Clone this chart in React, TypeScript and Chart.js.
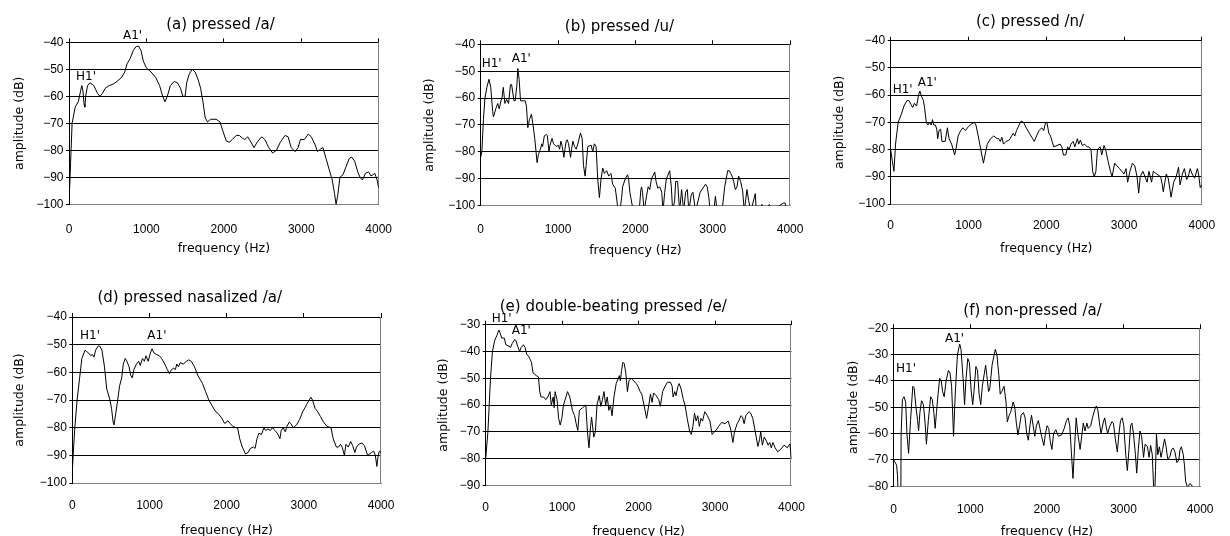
import React, { useEffect, useRef } from "react";
import { Chart, registerables } from "chart.js";
Chart.register(...registerables);

// ---------- data (frequency in Hz, amplitude in dB) ----------
const aHz = [0, 20, 40, 80, 120, 150, 165, 180, 195, 205, 215, 240, 270, 320, 370, 400, 430, 470, 520, 570, 620, 680, 720, 750, 790, 830, 870, 900, 930, 960, 1000, 1060, 1120, 1170, 1210, 1240, 1270, 1310, 1360, 1400, 1440, 1470, 1500, 1520, 1550, 1590, 1630, 1670, 1700, 1730, 1760, 1790, 1830, 1900, 1950, 1990, 2030, 2070, 2110, 2160, 2200, 2240, 2270, 2310, 2340, 2390, 2430, 2490, 2530, 2580, 2630, 2680, 2730, 2790, 2830, 2870, 2920, 2960, 2990, 3040, 3090, 3130, 3180, 3210, 3250, 3280, 3320, 3360, 3400, 3430, 3450, 3470, 3500, 3540, 3580, 3620, 3650, 3690, 3730, 3760, 3790, 3830, 3870, 3900, 3930, 3950, 3980, 4000];
const aDb = [-100, -85, -70, -64, -62, -58, -56, -58, -63, -64, -60, -56, -55, -56, -59, -60, -59, -57, -56, -55.5, -54.5, -53, -51, -48, -46, -43, -41.5, -41.5, -43, -47, -49.5, -51, -53, -56, -60, -62, -60, -56, -54.5, -55, -57, -60, -60, -55, -52, -50, -51, -54, -57, -62, -68, -69.5, -68.5, -68.5, -69.5, -73, -76.5, -77, -76, -74.5, -74.5, -75.5, -76, -75, -76.5, -79, -77, -75, -76, -79, -81, -80, -77, -74.5, -75, -79, -80.5, -79, -76, -76, -74, -75, -78, -80.5, -79.5, -79, -83, -87, -91, -96, -100, -97, -90, -89, -86, -83, -82.5, -84, -88, -90, -91, -88.5, -88, -89.5, -89, -88.5, -91, -94];

const bHz = [0, 15, 35, 55, 80, 107, 130, 155, 165, 195, 220, 240, 262, 275, 292, 313, 335, 360, 385, 400, 430, 446, 468, 480, 497, 515, 549, 575, 592, 609, 630, 656, 677, 699, 716, 729, 746, 772, 790, 800, 823, 849, 862, 883, 892, 922, 943, 977, 1003, 1020, 1037, 1054, 1076, 1089, 1106, 1119, 1136, 1162, 1175, 1192, 1213, 1235, 1256, 1290, 1312, 1329, 1350, 1363, 1385, 1428, 1449, 1470, 1492, 1513, 1535, 1556, 1578, 1599, 1629, 1655, 1685, 1706, 1740, 1779, 1800, 1822, 1835, 1869, 1899, 1912, 1929, 1972, 2049, 2071, 2080, 2092, 2114, 2135, 2165, 2186, 2208, 2251, 2268, 2289, 2315, 2341, 2358, 2379, 2401, 2444, 2465, 2482, 2508, 2521, 2546, 2572, 2598, 2624, 2650, 2671, 2692, 2722, 2744, 2778, 2838, 2907, 2929, 2950, 2967, 3014, 3035, 3057, 3121, 3155, 3194, 3215, 3232, 3250, 3271, 3293, 3314, 3335, 3361, 3387, 3408, 3443, 3464, 3494, 3550, 3563, 3623, 3636, 3657, 3734, 3755, 3914, 3936, 3957, 4000];
const bDb = [-82, -80, -68, -60, -56, -53, -56, -65, -67, -64, -62, -64, -61, -60, -56, -62, -60.5, -62, -55, -55, -61, -61, -55, -49, -53, -61, -61, -61, -63, -71, -68, -66, -70, -75, -80, -84, -81, -79, -77, -78, -74, -73.5, -74, -80, -78, -75, -77, -78, -77.5, -79, -76, -78, -82, -79, -76, -75.5, -77, -82, -79, -76, -78, -79, -77, -73, -75, -85, -89, -85, -78, -77.5, -80, -77, -78, -90, -97, -90, -86, -88, -87, -89, -88, -92, -93.5, -102, -102, -97, -93, -90, -88.5, -90, -95, -102, -102, -94, -93, -95, -102, -98, -93, -94, -90, -87.5, -91, -93.5, -93, -95, -102, -95, -90, -87, -93, -102, -98, -91, -91, -102, -94, -102, -95, -94, -102, -96, -95, -102, -95, -92, -93, -97, -102, -102, -96.5, -102, -102, -93, -87, -87, -88, -89, -91, -94, -93, -89, -91, -94.5, -102, -94, -98, -102, -95.5, -102, -102, -99.5, -102, -99.5, -102, -99, -99, -102, -104];

const cHz = [0, 20, 42, 62, 96, 137, 171, 208, 233, 262, 283, 304, 333, 358, 375, 396, 421, 437, 458, 479, 500, 521, 537, 554, 575, 592, 604, 621, 642, 658, 700, 729, 750, 783, 804, 821, 838, 867, 900, 929, 962, 1000, 1042, 1075, 1096, 1125, 1158, 1192, 1213, 1242, 1283, 1325, 1367, 1388, 1408, 1429, 1450, 1483, 1525, 1554, 1575, 1596, 1617, 1650, 1679, 1708, 1742, 1783, 1825, 1846, 1875, 1908, 1942, 1967, 1992, 2008, 2033, 2054, 2075, 2096, 2138, 2179, 2200, 2221, 2250, 2275, 2292, 2317, 2346, 2367, 2400, 2417, 2438, 2463, 2492, 2525, 2546, 2575, 2596, 2617, 2638, 2658, 2692, 2713, 2742, 2763, 2792, 2825, 2846, 2879, 2908, 2942, 2971, 3000, 3025, 3046, 3075, 3108, 3138, 3167, 3188, 3208, 3242, 3270, 3296, 3320, 3354, 3375, 3420, 3470, 3492, 3504, 3542, 3567, 3592, 3604, 3638, 3670, 3700, 3720, 3750, 3775, 3804, 3825, 3850, 3875, 3908, 3942, 3958, 3979, 4000];
const cDb = [-80, -84, -88, -78, -70, -67, -64, -62, -62, -63.5, -64.5, -63, -64, -60, -58.5, -60.5, -62, -65, -70, -71, -70, -71, -69, -71, -71, -72.5, -76, -73, -72.5, -77, -77, -72, -76, -78, -80, -82, -80, -75, -73, -72, -73, -71.5, -70.5, -70, -71, -75, -80, -85, -82, -78, -76, -75, -76, -76, -77, -75.5, -78, -77, -76.5, -75, -74, -75, -73, -71, -69.5, -70, -72, -74, -76, -77, -75, -73, -72, -73, -70, -70, -74, -75, -77, -79, -78.5, -78, -79, -82, -82, -79, -80, -78, -77, -79, -76, -78, -76.5, -78.5, -78, -79, -79, -80, -88, -90, -88, -80, -79, -82, -78.5, -80, -84, -88, -90, -85, -86, -87, -88, -89, -87, -92, -88, -85, -86, -90, -96, -90, -88, -90, -92, -88, -92, -88, -89, -90, -93, -95.5, -89, -90.5, -95, -97.5, -92, -90, -86.5, -93, -89, -87, -91, -90, -87, -89, -90.5, -87, -89, -94, -93];

const dHz = [0, 15, 33, 62, 95, 124, 165, 186, 211, 240, 260, 281, 302, 335, 355, 384, 417, 446, 488, 508, 529, 541, 562, 583, 612, 640, 661, 686, 707, 736, 756, 777, 798, 831, 860, 880, 909, 934, 955, 983, 1012, 1033, 1058, 1087, 1128, 1157, 1198, 1231, 1260, 1285, 1314, 1335, 1355, 1376, 1397, 1438, 1479, 1508, 1541, 1583, 1624, 1665, 1686, 1727, 1769, 1810, 1851, 1893, 1934, 1975, 2017, 2045, 2079, 2120, 2141, 2169, 2202, 2244, 2277, 2306, 2347, 2368, 2393, 2417, 2450, 2483, 2504, 2533, 2566, 2595, 2624, 2657, 2690, 2707, 2731, 2760, 2781, 2810, 2831, 2864, 2905, 2946, 2988, 3021, 3037, 3070, 3091, 3112, 3145, 3174, 3215, 3256, 3298, 3351, 3380, 3421, 3450, 3475, 3496, 3525, 3545, 3574, 3607, 3632, 3661, 3682, 3711, 3752, 3785, 3826, 3876, 3905, 3926, 3946, 3963, 3979, 4000];
const dDb = [-96, -88, -80, -70, -62, -55, -52, -52.5, -53, -54, -53.5, -54.5, -52, -50.5, -50.5, -52, -58, -66, -70, -73, -78, -79, -75, -71, -65, -62, -57, -55, -56, -58, -61, -62, -59, -57, -56, -57.5, -55, -56, -54, -56, -53, -51.5, -53, -53.5, -54, -55, -57, -59, -60.5, -59, -58.5, -59, -57, -58, -56.5, -57, -56, -55.5, -56, -58, -61, -63, -64, -67, -70, -72, -74, -75, -76.5, -78.5, -77.5, -78.5, -79.5, -80, -80, -84, -87, -89.5, -89, -87.5, -87, -87.5, -84, -82, -82.5, -80, -81, -80.5, -81, -80, -81, -82, -84, -81, -80, -81.5, -79.5, -78, -78.5, -80, -79, -77, -74, -72.5, -71.5, -70, -69, -70, -73, -74, -76, -78, -79.5, -80, -84, -87, -87, -86, -87, -90, -86, -87, -85, -86.5, -89, -87, -86, -85.5, -86.5, -90, -89, -88.5, -90, -94, -90, -88.5, -89];

const eHz = [0, 29, 63, 88, 117, 146, 172, 188, 209, 243, 264, 305, 326, 347, 381, 397, 418, 444, 464, 494, 515, 536, 565, 598, 619, 661, 690, 707, 724, 757, 787, 812, 841, 858, 883, 895, 908, 933, 954, 975, 996, 1017, 1050, 1071, 1100, 1134, 1163, 1184, 1205, 1226, 1268, 1310, 1331, 1351, 1372, 1385, 1414, 1435, 1456, 1485, 1506, 1527, 1548, 1569, 1590, 1611, 1632, 1653, 1678, 1707, 1736, 1749, 1762, 1778, 1795, 1812, 1833, 1854, 1874, 1904, 1937, 1971, 1992, 2021, 2042, 2071, 2105, 2134, 2155, 2176, 2197, 2230, 2264, 2285, 2314, 2347, 2377, 2418, 2439, 2452, 2473, 2490, 2515, 2531, 2556, 2586, 2607, 2636, 2669, 2690, 2711, 2732, 2753, 2774, 2795, 2816, 2837, 2866, 2900, 2933, 2962, 2992, 3025, 3046, 3088, 3130, 3172, 3205, 3234, 3255, 3289, 3310, 3339, 3360, 3381, 3402, 3444, 3465, 3494, 3527, 3561, 3582, 3598, 3619, 3644, 3674, 3695, 3716, 3736, 3757, 3787, 3820, 3862, 3904, 3946, 3979, 4000];
const eDb = [-80, -70, -50, -40, -36, -34, -32, -33, -35, -35, -37.5, -38, -38.5, -37, -35.5, -36, -38, -40, -38.5, -37.5, -38.5, -41, -42, -44, -48, -49, -49.5, -55, -57, -57, -58, -57, -55, -60, -57, -61, -55, -58, -65, -67.5, -65, -60, -57, -55, -57, -62, -64, -67, -69.5, -62, -61, -60, -70, -76, -68, -64.5, -72, -70, -60, -56.5, -60.5, -58, -55, -60, -57, -62, -60, -64, -57, -52, -50, -49, -51, -47, -44, -44.5, -48, -55, -51, -50, -51, -52, -53, -55, -56, -60, -65, -60, -56, -59, -55.5, -56.5, -58, -60.5, -55, -53, -51.5, -51.5, -53, -57, -55, -56.5, -53, -52, -54, -58, -60, -65, -70, -71, -68, -63, -66, -64, -68, -65, -66, -62.5, -64, -66, -71, -70, -69, -68, -66.5, -67, -66, -69, -74, -70, -67, -66, -64, -64.5, -67, -64, -62.5, -63, -65, -70, -75.5, -73, -70, -75, -72, -73.5, -75, -74, -76, -74, -76, -77.5, -76.5, -75, -76, -74.5, -80];

const fHz = [0, 21, 38, 50, 59, 80, 93, 97, 114, 135, 156, 173, 194, 220, 249, 266, 291, 312, 325, 342, 363, 388, 410, 427, 452, 482, 503, 524, 541, 558, 579, 600, 621, 638, 659, 684, 714, 735, 756, 781, 803, 832, 862, 879, 908, 925, 942, 967, 988, 1009, 1031, 1048, 1073, 1094, 1115, 1136, 1157, 1200, 1216, 1238, 1254, 1284, 1326, 1347, 1373, 1390, 1411, 1440, 1466, 1483, 1508, 1525, 1542, 1559, 1580, 1601, 1622, 1643, 1664, 1694, 1715, 1736, 1757, 1778, 1799, 1820, 1842, 1863, 1888, 1909, 1930, 1960, 1981, 2002, 2023, 2044, 2065, 2087, 2116, 2150, 2192, 2226, 2256, 2277, 2298, 2319, 2340, 2361, 2382, 2403, 2433, 2458, 2475, 2496, 2522, 2539, 2572, 2594, 2623, 2644, 2665, 2686, 2707, 2733, 2754, 2771, 2792, 2817, 2847, 2868, 2893, 2919, 2940, 2961, 2982, 3003, 3029, 3050, 3071, 3092, 3109, 3130, 3155, 3172, 3193, 3214, 3236, 3261, 3282, 3312, 3333, 3354, 3375, 3392, 3405, 3417, 3430, 3447, 3468, 3489, 3510, 3535, 3556, 3578, 3607, 3628, 3650, 3671, 3696, 3721, 3738, 3755, 3780, 3795, 3810, 3835, 3865, 3890, 3905, 4000];
const fDb = [-70, -71, -72, -76, -84, -84, -84, -60, -47, -46, -48, -60, -67.5, -55, -42, -42.5, -50, -55, -59, -52, -47.5, -49, -56, -64, -55, -46, -47, -52, -58, -52, -45, -39, -40, -44, -46, -40, -36, -37, -42, -61, -45, -30, -26, -28, -40, -49, -40, -31.5, -33, -43, -49, -44, -34.5, -36, -45, -49, -42, -34, -38, -44, -43, -34, -28, -30, -38, -45, -44, -42, -48, -55.5, -53, -52, -50, -48, -50, -56, -60.5, -57, -53, -52, -54, -60, -62.5, -57, -53, -57, -61, -57, -55, -58, -61, -64.5, -60, -57, -58, -63, -66, -60, -58.5, -61, -60.5, -58, -55, -54, -57, -67, -77, -65, -54, -60, -66, -60, -56, -59, -56, -58, -57, -54, -51, -49.5, -51, -56, -60, -56, -54, -57, -60, -57.5, -55.5, -56, -62, -67, -60, -55, -54, -57, -68, -74, -66, -57, -56, -60, -68, -75, -66, -59, -61, -69, -64, -65, -69, -64.5, -68, -80, -85, -74, -60, -68, -65, -69, -66, -62, -65, -70, -68.5, -66, -65.5, -67, -71, -70, -66, -65, -68, -72, -78, -80.5, -79, -79.5, -81, -85];

const xTicksHz = [0, 1000, 2000, 3000, 4000];
const xTitle = "frequency (Hz)";
const yTitle = "amplitude (dB)";

// ---------- layout ----------
const SANS = '"DejaVu Sans", sans-serif';
const TICK = '"Liberation Sans", Arial, sans-serif';

type Mark = { text: string; x: number; y: number };
type P = {
  title: string; hz: number[]; db: number[]; yMin: number; yMax: number;
  box: { x: number; y: number; w: number; h: number };
  plot: { l: number; t: number; r: number; b: number };
  tc: { x: number; y: number }; tickCy: number; xTitleCy: number; yTitleCx: number;
  marks: Mark[];
};

const PANELS: P[] = [
  { title: "(a) pressed /a/", hz: aHz, db: aDb, yMin: -100, yMax: -40,
    box: { x: 0, y: 0, w: 410, h: 266 }, plot: { l: 69, t: 42.3, r: 382.7, b: 204.3 },
    tc: { x: 220.5, y: 25.5 }, tickCy: 229.5, xTitleCy: 249, yTitleCx: 20,
    marks: [{ text: "H1'", x: 76, y: 77 }, { text: "A1'", x: 123, y: 35.5 }] },
  { title: "(b) pressed /u/", hz: bHz, db: bDb, yMin: -100, yMax: -40,
    box: { x: 410, y: 0, w: 410, h: 266 }, plot: { l: 480.7, t: 44.3, r: 791.7, b: 205.7 },
    tc: { x: 619.5, y: 27 }, tickCy: 229.5, xTitleCy: 250.5, yTitleCx: 430,
    marks: [{ text: "H1'", x: 481.7, y: 64 }, { text: "A1'", x: 511.7, y: 58.8 }] },
  { title: "(c) pressed /n/", hz: cHz, db: cDb, yMin: -100, yMax: -40,
    box: { x: 820, y: 0, w: 410, h: 266 }, plot: { l: 890.7, t: 40.7, r: 1210.7, b: 204 },
    tc: { x: 1030, y: 21.7 }, tickCy: 226, xTitleCy: 249, yTitleCx: 840,
    marks: [{ text: "H1'", x: 892.7, y: 90 }, { text: "A1'", x: 917.7, y: 82.8 }] },
  { title: "(d) pressed nasalized /a/", hz: dHz, db: dDb, yMin: -100, yMax: -40,
    box: { x: 0, y: 266, w: 410, h: 270 }, plot: { l: 72.3, t: 317, r: 395, b: 483 },
    tc: { x: 189.7, y: 298.3 }, tickCy: 505.8, xTitleCy: 531, yTitleCx: 20,
    marks: [{ text: "H1'", x: 80, y: 336 }, { text: "A1'", x: 147.3, y: 336 }] },
  { title: "(e) double-beating pressed /e/", hz: eHz, db: eDb, yMin: -90, yMax: -30,
    box: { x: 410, y: 266, w: 410, h: 270 }, plot: { l: 485.7, t: 324.7, r: 804.3, b: 485.3 },
    tc: { x: 613.3, y: 307.3 }, tickCy: 507.7, xTitleCy: 532, yTitleCx: 443.8,
    marks: [{ text: "H1'", x: 491.7, y: 318.8 }, { text: "A1'", x: 511.7, y: 331.3 }] },
  { title: "(f) non-pressed /a/", hz: fHz, db: fDb, yMin: -80, yMax: -20,
    box: { x: 820, y: 266, w: 410, h: 270 }, plot: { l: 893.7, t: 328.3, r: 1209.3, b: 486.3 },
    tc: { x: 1032.5, y: 311 }, tickCy: 510, xTitleCy: 532, yTitleCx: 853.8,
    marks: [{ text: "H1'", x: 896, y: 369.3 }, { text: "A1'", x: 945, y: 338.5 }] },
];

const TICK_SIZE = 12;
const AXT_SIZE = 12.5;
const TITLE_SIZE = 15;

function decor(p: P) {
  return {
    id: "panelDecor",
    beforeDatasetsDraw(chart: any) {
      const { ctx, chartArea: a } = chart;
      ctx.save();
      ctx.strokeStyle = "#808080";
      ctx.lineWidth = 1;
      const x = Math.round(a.right) - 0.5;
      ctx.beginPath();
      ctx.moveTo(x, a.top);
      ctx.lineTo(x, a.bottom);
      ctx.stroke();
      ctx.restore();
    },
    afterDraw(chart: any) {
      const ctx = chart.ctx;
      ctx.save();
      ctx.fillStyle = "#000";
      ctx.font = `${TITLE_SIZE}px ${SANS}`;
      ctx.textAlign = "center";
      ctx.textBaseline = "middle";
      ctx.fillText(p.title, p.tc.x - p.box.x, p.tc.y - p.box.y);
      ctx.font = `12px ${SANS}`;
      ctx.textAlign = "left";
      for (const m of p.marks) ctx.fillText(m.text, m.x - p.box.x, m.y - p.box.y);
      ctx.restore();
    },
  };
}

function Panel({ p }: { p: P }) {
  const ref = useRef<HTMLCanvasElement>(null);
  useEffect(() => {
    const canvas = ref.current;
    if (!canvas) return;
    const { box, plot } = p;
    const leftW = plot.l - box.x;
    const topH = plot.t - box.y;
    const rightPad = box.x + box.w - plot.r;
    const bottomH = box.y + box.h - plot.b;
    const axLH = AXT_SIZE * 1.2;
    const tickPad = p.tickCy - plot.b - (TICK_SIZE * 1.2) / 2;
    const xTitlePad = box.y + box.h - p.xTitleCy - axLH / 2;
    const yTitlePad = p.yTitleCx - box.x - axLH / 2;

    const chart = new Chart(canvas, {
      type: "line",
      data: {
        datasets: [
          {
            data: p.hz.map((x, i) => ({ x, y: p.db[i] })),
            borderColor: "#000",
            borderWidth: 1,
            pointRadius: 0,
            tension: 0,
            fill: false,
            xAxisID: "x",
            yAxisID: "y",
          },
        ],
      },
      options: {
        animation: false,
        responsive: false,
        devicePixelRatio: 1,
        layout: { padding: { left: 0, top: 0, right: rightPad, bottom: 0 } },
        plugins: { legend: { display: false }, tooltip: { enabled: false }, title: { display: false } },
        scales: {
          x: {
            type: "linear",
            position: "bottom",
            min: 0,
            max: 4000,
            afterBuildTicks: (s: any) => { s.ticks = xTicksHz.map((v) => ({ value: v })); },
            ticks: {
              padding: tickPad,
              color: "#000",
              font: { family: TICK, size: TICK_SIZE },
              maxRotation: 0,
              autoSkip: false,
              callback: (v: any) => String(v),
            },
            grid: { display: false, drawTicks: false },
            border: { display: true, color: "#808080", width: 1 },
            title: {
              display: true,
              text: xTitle,
              color: "#000",
              font: { family: SANS, size: AXT_SIZE },
              padding: { top: 0, bottom: xTitlePad },
            },
            afterFit: (s: any) => { s.height = bottomH; },
          },
          x2: {
            type: "linear",
            position: "top",
            min: 0,
            max: 4000,
            afterBuildTicks: (s: any) => { s.ticks = xTicksHz.map((v) => ({ value: v })); },
            ticks: { display: false },
            grid: { drawOnChartArea: false, drawTicks: true, tickLength: 4, color: "#000", lineWidth: 1 },
            border: { display: true, color: "#000", width: 1 },
            afterFit: (s: any) => { s.height = topH; },
          },
          y: {
            type: "linear",
            position: "left",
            min: p.yMin,
            max: p.yMax,
            ticks: {
              stepSize: 10,
              padding: 2.5,
              color: "#000",
              font: { family: TICK, size: TICK_SIZE },
              callback: (v: any) => (v < 0 ? "\u2212" + Math.abs(v) : String(v)),
            },
            grid: {
              color: (c: any) => (c.tick && c.tick.value === p.yMin ? "rgba(0,0,0,0)" : "#000"),
              tickColor: "#000",
              tickLength: 3,
              lineWidth: 1,
            },
            border: { display: true, color: "#000", width: 1 },
            title: {
              display: true,
              text: yTitle,
              color: "#000",
              font: { family: SANS, size: AXT_SIZE },
              padding: { top: yTitlePad, bottom: 0 },
            },
            afterFit: (s: any) => { s.width = leftW; },
          },
        },
      },
      plugins: [decor(p)],
    } as any);
    return () => chart.destroy();
  }, [p]);
  return (
    <canvas
      ref={ref}
      width={p.box.w}
      height={p.box.h}
      style={{ position: "absolute", left: p.box.x, top: p.box.y, width: p.box.w, height: p.box.h }}
    />
  );
}

export default function App() {
  return (
    <div style={{ position: "absolute", left: 0, top: 0, width: 1230, height: 536, background: "#fff", overflow: "hidden" }}>
      {PANELS.map((p, i) => (
        <Panel key={i} p={p} />
      ))}
    </div>
  );
}
